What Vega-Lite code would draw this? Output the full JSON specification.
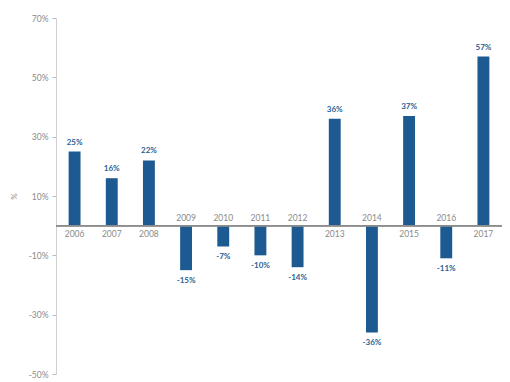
{
  "$schema": "https://vega.github.io/schema/vega-lite/v6.json",
  "width": 446,
  "height": 356,
  "autosize": "none",
  "padding": {"left": 56, "top": 18, "right": 8, "bottom": 8},
  "background": "white",
  "config": {"view": {"stroke": null}, "font": "Lato"},
  "data": {"values": [
    {"year": "2006", "value": 25},
    {"year": "2007", "value": 16},
    {"year": "2008", "value": 22},
    {"year": "2009", "value": -15},
    {"year": "2010", "value": -7},
    {"year": "2011", "value": -10},
    {"year": "2012", "value": -14},
    {"year": "2013", "value": 36},
    {"year": "2014", "value": -36},
    {"year": "2015", "value": 37},
    {"year": "2016", "value": -11},
    {"year": "2017", "value": 57}
  ]},
  "encoding": {
    "x": {"field": "year", "type": "nominal", "sort": null, "scale": {"paddingInner": 0.68, "paddingOuter": 0.34}, "axis": null}
  },
  "layer": [
    {
      "mark": {"type": "bar", "color": "#1d5a91"},
      "encoding": {
        "y": {"field": "value", "type": "quantitative",
          "scale": {"domain": [-50, 70], "nice": false, "zero": false},
          "axis": {
            "values": [-50, -30, -10, 10, 30, 50, 70],
            "labelExpr": "datum.value + '%'",
            "grid": false,
            "domainColor": "#d0d0d0",
            "tickColor": "#bbbbbb",
            "tickSize": 4,
            "labelPadding": 4,
            "labelColor": "#8a8a8a",
            "labelFontSize": 8.5,
            "title": "%",
            "titleColor": "#8a8a8a",
            "titleFontSize": 8,
            "titleFontWeight": "normal",
            "titlePadding": 10
          }
        }
      }
    },
    {
      "mark": {"type": "rule", "color": "#8c8c8c", "strokeWidth": 1},
      "encoding": {"x": null, "y": {"datum": 0, "type": "quantitative"}}
    },
    {
      "transform": [{"filter": "datum.value >= 0"}],
      "mark": {"type": "text", "color": "#8a8a8a", "fontSize": 8.5, "baseline": "middle", "dy": 8},
      "encoding": {"y": {"datum": 0, "type": "quantitative"}, "text": {"field": "year"}}
    },
    {
      "transform": [{"filter": "datum.value < 0"}],
      "mark": {"type": "text", "color": "#8a8a8a", "fontSize": 8.5, "baseline": "middle", "dy": -8},
      "encoding": {"y": {"datum": 0, "type": "quantitative"}, "text": {"field": "year"}}
    },
    {
      "transform": [{"filter": "datum.value >= 0"}, {"calculate": "datum.value + '%'", "as": "lbl"}],
      "mark": {"type": "text", "color": "#2a5f93", "fontSize": 8, "fontWeight": "bold", "baseline": "middle", "dy": -9},
      "encoding": {"y": {"field": "value", "type": "quantitative"}, "text": {"field": "lbl"}}
    },
    {
      "transform": [{"filter": "datum.value < 0"}, {"calculate": "datum.value + '%'", "as": "lbl"}],
      "mark": {"type": "text", "color": "#2a5f93", "fontSize": 8, "fontWeight": "bold", "baseline": "middle", "dy": 11},
      "encoding": {"y": {"field": "value", "type": "quantitative"}, "text": {"field": "lbl"}}
    }
  ]
}
